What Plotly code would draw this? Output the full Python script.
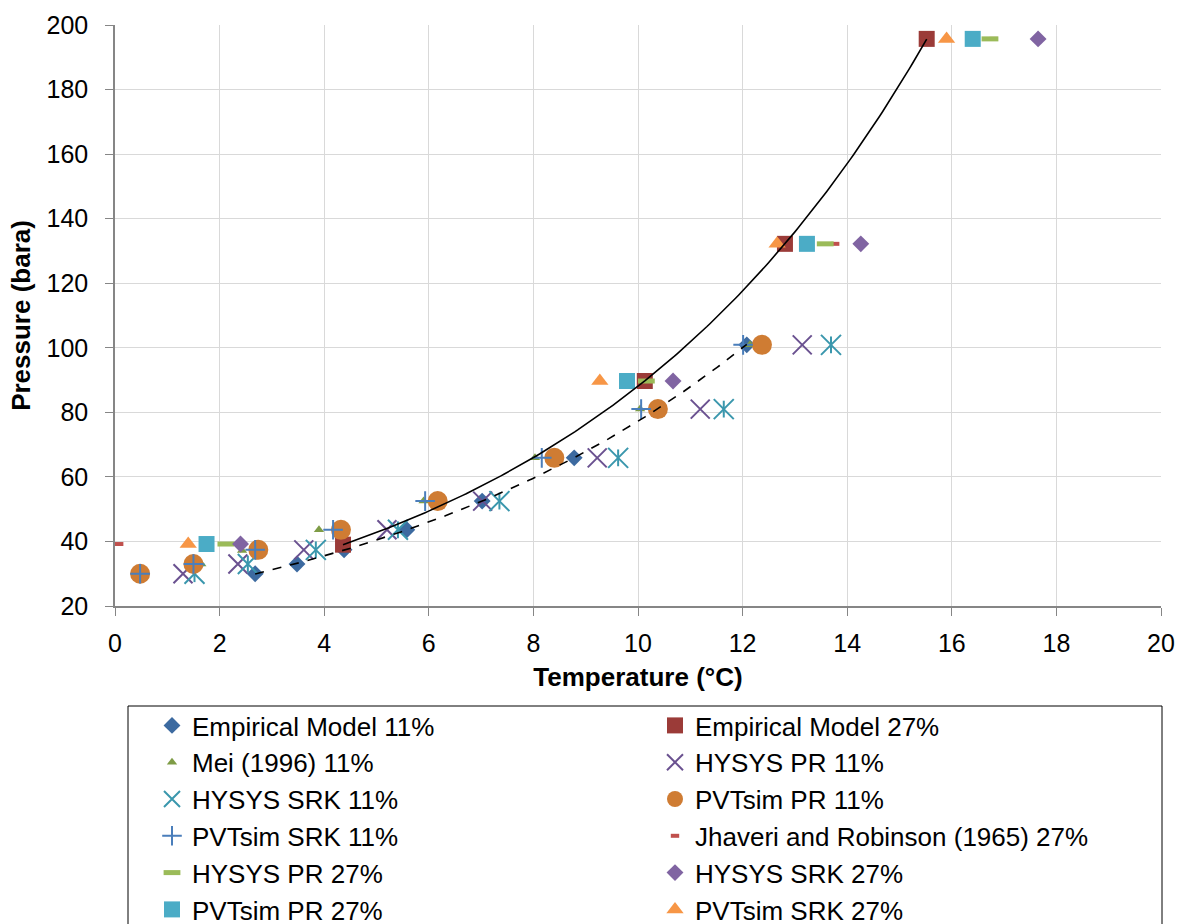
import numpy as np
import plotly.graph_objects as go

# ---- data (Temperature °C, Pressure bara) ----
emp11_T = [2.68, 3.48, 4.38, 5.58, 7.02, 8.78, 10.35, 12.08]
emp11_P = [30.0, 33.0, 37.4, 43.6, 52.5, 65.9, 81.0, 100.9]

emp27_T = [4.36, 10.13, 12.81, 15.52]
emp27_P = [39.0, 89.7, 132.2, 195.7]

mei11_T = [1.65, 2.43, 3.90, 5.90, 8.03, 10.04, 12.14]
mei11_P = [33.0, 37.2, 43.6, 52.5, 65.9, 81.0, 100.9]

hpr11_T = [1.30, 2.35, 3.61, 5.20, 7.03, 9.22, 11.19, 13.14]
hpr11_P = [30.0, 33.0, 37.4, 43.6, 52.5, 65.9, 81.0, 100.9]

hsrk11_T = [1.52, 2.54, 3.84, 5.41, 7.35, 9.62, 11.64, 13.69]
hsrk11_P = [30.0, 33.0, 37.4, 43.6, 52.5, 65.9, 81.0, 100.9]

ppr11_T = [0.48, 1.50, 2.74, 4.32, 6.17, 8.40, 10.38, 12.37]
ppr11_P = [30.0, 33.0, 37.4, 43.6, 52.5, 65.9, 81.0, 100.9]

psrk11_T = [0.48, 1.50, 2.68, 4.17, 5.93, 8.16, 10.06, 12.01]
psrk11_P = [30.0, 33.0, 37.4, 43.6, 52.5, 65.9, 81.0, 100.9]

jr27_T = [0.08, 10.10, 13.77, 16.80]
jr27_P = [39.2, 89.7, 132.2, 195.7]

hpr27_T = [2.12, 10.16, 13.58, 16.73]
hpr27_P = [39.2, 89.7, 132.2, 195.7]

hsrk27_T = [2.40, 10.67, 14.26, 17.65]
hsrk27_P = [39.2, 89.7, 132.2, 195.7]

ppr27_T = [1.75, 9.79, 13.23, 16.40]
ppr27_P = [39.2, 89.7, 132.2, 195.7]

psrk27_T = [1.40, 9.27, 12.66, 15.90]
psrk27_P = [39.2, 89.7, 132.2, 195.7]

x_ticks = list(range(0, 21, 2))
y_ticks = list(range(20, 201, 20))

FONT = "Liberation Sans, Arial, sans-serif"

fig = go.Figure()


def add(name, xs, ys, symbol, color, size, lw=0, show=True):
    fig.add_trace(go.Scatter(
        x=xs, y=ys, mode="markers", name=name, showlegend=show,
        marker=dict(symbol=symbol, color=color, size=size,
                    line=dict(width=lw, color=color)),
    ))


def trend(xs, ys, dash):
    b, ln_a = np.polyfit(np.array(xs), np.log(np.array(ys)), 1)
    tx = np.linspace(min(xs), max(xs), 200)
    ty = np.exp(ln_a) * np.exp(b * tx)
    fig.add_trace(go.Scatter(x=tx, y=ty, mode="lines", showlegend=False,
                             hoverinfo="skip",
                             line=dict(color="black", width=1.6, dash=dash)))


add("Empirical Model 11%", emp11_T, emp11_P, "diamond", "#3C6AA0", 13)
add("Empirical Model 27%", emp27_T, emp27_P, "square", "#9B3B38", 16)
add("Mei (1996) 11%", mei11_T, mei11_P, "triangle-up", "#7E9C46", 9)
add("HYSYS PR 11%", hpr11_T, hpr11_P, "x-thin-open", "#6A5190", 19, 2)
add("HYSYS SRK 11%", hsrk11_T, hsrk11_P, "x-thin-open", "#3A97AD", 20, 2)
add("HYSYS SRK 11% (stem)", hsrk11_T, hsrk11_P, "line-ns-open", "#3A97AD", 12, 2,
    show=False)
add("PVTsim PR 11%", ppr11_T, ppr11_P, "circle", "#CF7C33", 20)
add("PVTsim SRK 11%", psrk11_T, psrk11_P, "cross-thin-open", "#4A7EBB", 14, 2)
add("Jhaveri and Robinson (1965) 27%", jr27_T, jr27_P, "line-ew-open", "#C0504D", 6, 4)
add("HYSYS PR 27%", hpr27_T, hpr27_P, "line-ew-open", "#9BBB59", 12, 5)
add("HYSYS SRK 27%", hsrk27_T, hsrk27_P, "diamond", "#8064A2", 13)
add("PVTsim PR 27%", ppr27_T, ppr27_P, "square", "#4BACC6", 16)
add("PVTsim SRK 27%", psrk27_T, psrk27_P, "triangle-up", "#F79646", 15)

trend(emp11_T, emp11_P, "dash")
trend(emp27_T, emp27_P, "solid")

PW = 1046.0
PH = 581.0

fig.update_layout(
    width=1184, height=924,
    margin=dict(l=115, r=23, t=25, b=318, autoexpand=False),
    paper_bgcolor="white", plot_bgcolor="white",
    font=dict(family=FONT, size=25, color="black"),
    showlegend=True,
    legend=dict(
        orientation="h", x=(152 - 115) / PW, y=-(702 - 606) / PH,
        xanchor="left", yanchor="top",
        entrywidth=458, entrywidthmode="pixels",
        tracegroupgap=0,
        font=dict(family=FONT, size=26, color="black"),
        borderwidth=0, bgcolor="rgba(0,0,0,0)",
        itemsizing="trace",
    ),
    shapes=[dict(type="rect", xref="paper", yref="paper",
                 x0=(128 - 115) / PW, x1=(1162 - 115) / PW,
                 y0=-(940 - 606) / PH, y1=-(706 - 606) / PH,
                 line=dict(color="black", width=1), fillcolor="rgba(0,0,0,0)",
                 layer="below")],
)

fig.update_xaxes(
    range=[0, 20], tickvals=x_ticks, ticktext=[str(v) for v in x_ticks],
    showgrid=True, gridcolor="#D9D9D9", gridwidth=1,
    showline=True, linecolor="#868686", linewidth=1.5,
    ticks="outside", tickcolor="#868686", ticklen=8,
    ticklabelstandoff=6,
    zeroline=False,
    tickfont=dict(family=FONT, size=25),
    title=dict(text="<b>Temperature (°C)</b>", font=dict(family=FONT, size=26), standoff=12),
)
fig.update_yaxes(
    range=[20, 200], tickvals=y_ticks, ticktext=[str(v) for v in y_ticks],
    showgrid=True, gridcolor="#D9D9D9", gridwidth=1,
    showline=True, linecolor="#868686", linewidth=1.5,
    ticks="outside", tickcolor="#868686", ticklen=8,
    ticklabelstandoff=12,
    zeroline=False,
    tickfont=dict(family=FONT, size=25),
    title=dict(text="<b>Pressure (bara)</b>", font=dict(family=FONT, size=26), standoff=8),
)

fig.write_html("out.html")
